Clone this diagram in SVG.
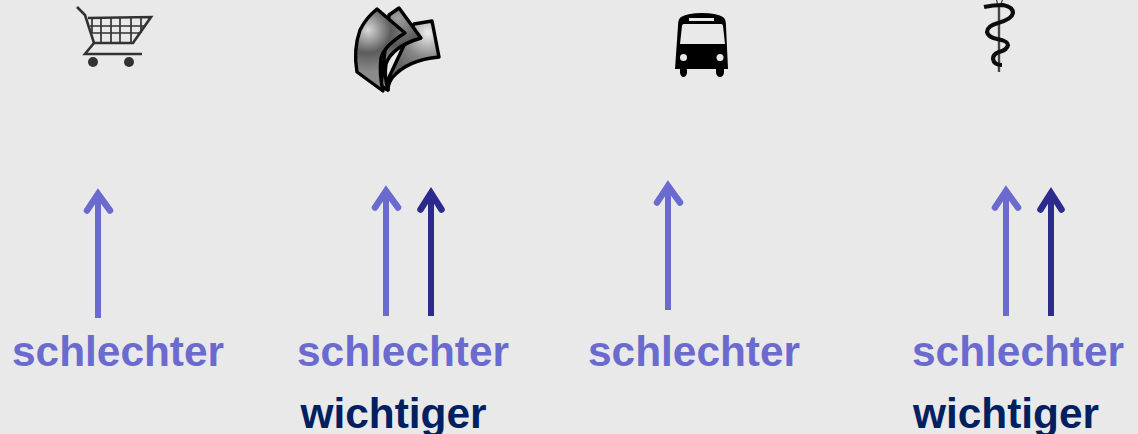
<svg xmlns="http://www.w3.org/2000/svg" width="1138" height="434" viewBox="0 0 1138 434">
<style>
.t{font-family:"Liberation Sans",Arial,sans-serif;font-weight:700;font-size:42.4px}
.s{fill:#6b6bcf}.w{fill:#002060}
.a{fill:none;stroke-width:6}
.l{stroke:#6b6bcf}.d{stroke:#2c2a8c}
.h{fill:none;stroke-width:6.500;stroke-linecap:round;stroke-linejoin:miter}
.paper{stroke:#000;stroke-width:3.400;stroke-linejoin:round}
</style>
<defs>
<filter id="soft" x="-10%" y="-10%" width="120%" height="120%"><feGaussianBlur stdDeviation="0.45"/></filter>
<radialGradient id="gf" gradientUnits="userSpaceOnUse" cx="368" cy="30" r="42"><stop offset="0" stop-color="#d8d8d8"/><stop offset=".55" stop-color="#5c5c5c"/><stop offset="1" stop-color="#8a8a8a"/></radialGradient>
<radialGradient id="gm" gradientUnits="userSpaceOnUse" cx="398" cy="18" r="45"><stop offset="0" stop-color="#a0a0a0"/><stop offset=".6" stop-color="#565656"/><stop offset="1" stop-color="#8a8a8a"/></radialGradient>
<radialGradient id="gb" gradientUnits="userSpaceOnUse" cx="428" cy="33" r="42"><stop offset="0" stop-color="#eeeeee"/><stop offset=".6" stop-color="#858585"/><stop offset="1" stop-color="#666"/></radialGradient>
</defs>
<rect width="1138" height="434" fill="#e9e9e9"/>
<g id="icon-cart" fill="none" stroke="#333" filter="url(#soft)">
<path d="M77 7 L85 15 L94 43 H133 L151 17 L88 18" stroke-width="2.600"/>
<path d="M90 26 H146 M92 33 H141 M92 18 V33 M101 18 V43 M111 18 V43 M120 18 V43 M131 18 V43 M141 18 V33" stroke-width="1.700"/>
<path d="M94 43 L85 54 H142" stroke-width="2.600"/>
<circle cx="93" cy="62" r="5" fill="#333" stroke="none"/><circle cx="129" cy="62" r="5" fill="#333" stroke="none"/>
</g>
<g id="icon-money" filter="url(#soft)">
<path class="paper" fill="url(#gb)" d="M414 24 L432 21 L439 57 C417 59 402 66 392 78 Q388 84 388 90 L384 88 Z"/>
<path class="paper" fill="url(#gm)" d="M389 15 L399 8 L421 38 C404 43 390 52 386 64 Q384 76 388 90 L381 86 Z"/>
<path class="paper" fill="url(#gf)" d="M377 9 L405 33 C392 41 383 50 381 58 Q379 74 383 91 L357 72 Q353 50 360 30 Q366 18 377 9 Z"/>
</g>
<g id="icon-bus" filter="url(#soft)">
<path fill="#000" d="M702 13 Q716 13 723 17 Q726 19 726 26 L728 69 H724 V73 Q723 77 720 77 Q717 77 716 73 V69 H687 V73 Q686 77 683.500 77 Q681 77 680 73 V69 H675 L678 26 Q678 19 681 17 Q688 13 702 13 Z"/>
<path fill="#e9e9e9" d="M684 24 H721 Q723 24 723 26 L725 44 H680 L682 26 Q682 24 684 24 Z M689 18 H714 V21 H689 Z"/>
<circle cx="683.500" cy="57.500" r="3.500" fill="#e9e9e9"/><circle cx="720" cy="57.500" r="3.500" fill="#e9e9e9"/>
</g>
<g id="icon-staff" fill="none" filter="url(#soft)">
<path d="M999 5 V72" stroke="#444" stroke-width="2.400"/>
<path d="M996.500 0 L998.500 7 M1002.500 0 L999.500 7" stroke="#444" stroke-width="1.200"/>
<path d="M984 7 Q993 5 1003 5 Q1013 7 1013 13 Q1012 19 998 23 Q987 26 987 32 Q988 37 997 39 Q1008 41 1008 45 Q1007 50 999 52 Q993 54 993 59 Q994 65 1002 65" stroke="#111" stroke-width="4.200"/>
</g>
<g id="connectors">
<g id="arrow-1"><path class="a l" d="M98 318 V194"/><path class="h l" d="M87 210.500 L98 194 L110 210.500"/></g>
<g id="arrow-2a"><path class="a l" d="M386 316 V191"/><path class="h l" d="M375 207.500 L386 191 L398 207.500"/></g>
<g id="arrow-2b"><path class="a d" d="M431 316 V193"/><path class="h d" d="M420.500 209.500 L431 193 L441.500 209.500"/></g>
<g id="arrow-3"><path class="a l" d="M668 310 V186"/><path class="h l" d="M657 202.500 L668 186 L680 202.500"/></g>
<g id="arrow-4a"><path class="a l" d="M1006 316 V191"/><path class="h l" d="M995 207.500 L1006 191 L1018 207.500"/></g>
<g id="arrow-4b"><path class="a d" d="M1051 316 V193"/><path class="h d" d="M1040.500 209.500 L1051 193 L1061.500 209.500"/></g>
</g>
<g id="label-1"><text class="t s" x="12" y="366">schlechter</text></g>
<g id="label-2"><text class="t s" x="297" y="366">schlechter</text><text class="t w" x="300.500" y="428">wichtiger</text></g>
<g id="label-3"><text class="t s" x="588" y="366">schlechter</text></g>
<g id="label-4"><text class="t s" x="912" y="366">schlechter</text><text class="t w" x="913" y="428">wichtiger</text></g>
</svg>
